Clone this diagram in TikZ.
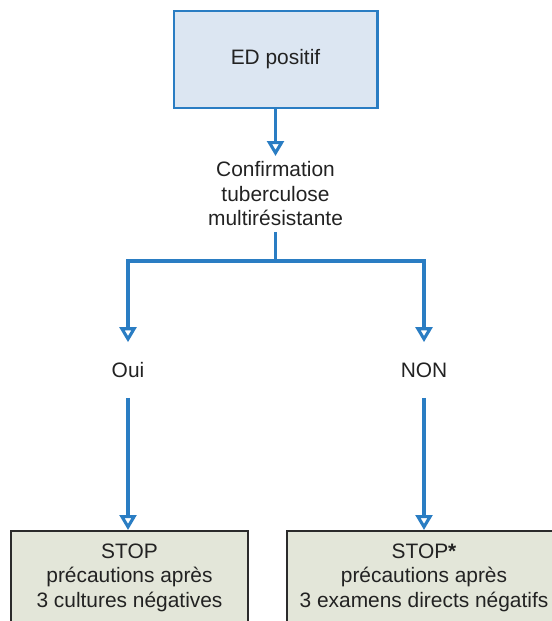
\documentclass[tikz,border=0pt]{standalone}
\usepackage{fontspec}
\setmainfont{Liberation Sans}
\usetikzlibrary{arrows.meta,positioning}
\definecolor{edblue}{HTML}{2A7DC3}
\definecolor{edfill}{HTML}{DCE6F2}
\definecolor{stopfill}{HTML}{E3E6D9}
\definecolor{stopline}{HTML}{2B2B2B}
\definecolor{txt}{HTML}{222222}

\begin{document}
\begin{tikzpicture}[font=\fontsize{11.9}{14}\selectfont,text=txt,
  lin/.style={draw=edblue,line width=1.75pt},
  arr/.style={lin,-{Triangle[open,length=8.5pt,width=9.5pt]}},
  edbox/.style={draw=edblue,fill=edfill,line width=1.7pt,minimum width=4.06cm,minimum height=1.94cm},
  stopbox/.style={draw=stopline,fill=stopfill,line width=1.2pt,anchor=north,align=center,minimum height=1.86cm}]
\useasboundingbox (0,0) rectangle (11.04,-12.42);
\clip (0,0) rectangle (11.04,-12.42);
%top box
\node[edbox] (ed) at (5.51,-1.19) {ED positif};
\node[align=center,anchor=north,inner sep=3pt] (conf) at (5.51,-3.12) {Confirmation\\tuberculose\\multirésistante};
\draw[arr] (ed) -- (conf);
%split
\coordinate (split) at (5.51,-5.22);
\draw[lin] (conf) -- (split);
\node[minimum height=1.1cm] (oui) at (2.56,-7.4) {Oui};
\node[minimum height=1.1cm] (non) at (8.48,-7.4) {NON};
\foreach \b in {oui,non}
\draw[arr] (split) -| (\b);
%stop boxes
\node[stopbox,minimum width=4.74cm] (stopoui) at (2.59,-10.6) {STOP\\précautions après\\3 cultures négatives};
\node[stopbox,minimum width=5.48cm] (stopnon) at (8.48,-10.6) {STOP\textbf{*}\\précautions après\\3 examens directs négatifs};
\draw[arr] (oui) -- (oui |- stopoui.north);
\draw[arr] (non) -- (stopnon);
\end{tikzpicture}
\end{document}
